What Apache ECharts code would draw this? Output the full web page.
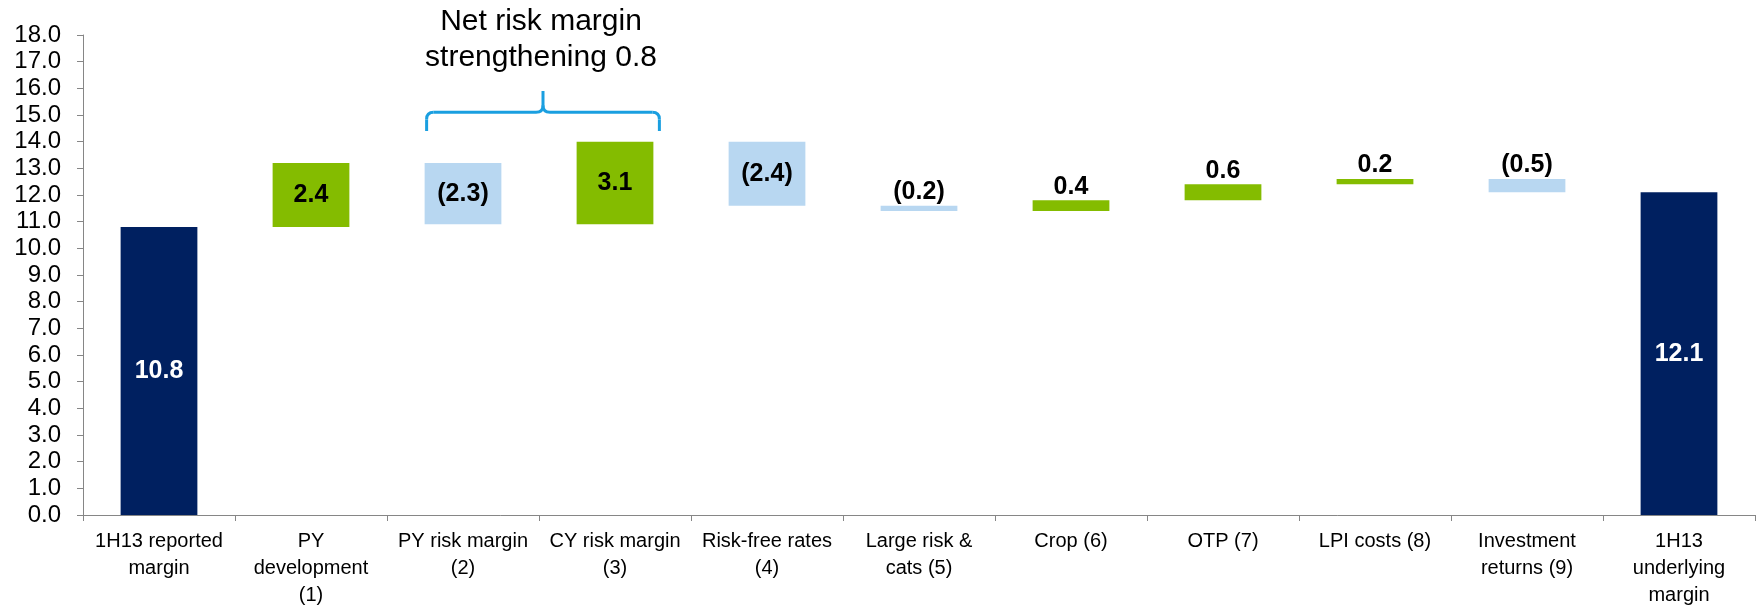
<!DOCTYPE html>
<html>
<head>
<meta charset="utf-8">
<title>1H13 margin bridge</title>
<script src="https://cdn.jsdelivr.net/npm/echarts@6/dist/echarts.min.js"></script>
<style>
  html, body { margin: 0; padding: 0; background: #ffffff; }
  #chart { width: 1756px; height: 609px; }
</style>
</head>
<body>
<div id="chart"></div>
<script>
// Bridge categories (x axis)
const categories = [
  '1H13 reported\nmargin',
  'PY\ndevelopment\n(1)',
  'PY risk margin\n(2)',
  'CY risk margin\n(3)',
  'Risk-free rates\n(4)',
  'Large risk &\ncats (5)',
  'Crop (6)',
  'OTP (7)',
  'LPI costs (8)',
  'Investment\nreturns (9)',
  '1H13\nunderlying\nmargin'
];
// Opening/closing totals and the movements between them (%)
const movements = [10.8, 2.4, -2.3, 3.1, -2.4, -0.2, 0.4, 0.6, 0.2, -0.5, 12.1];
// Which bars are totals (drawn from zero)
const isTotal = [true, false, false, false, false, false, false, false, false, false, true];
// Value axis tick range
const yTicks = { min: 0, max: 18, step: 1 };
// Bracket annotation over the risk-margin bars
const bracketText = 'Net risk margin\nstrengthening 0.8';
const bracketSpan = [2, 3];

const NAVY = '#002060';
const GREEN = '#84bc00';
const LIGHT_BLUE = '#b8d7f1';
const BRACKET_BLUE = '#1a9fe0';
const FONT = '"Liberation Sans", Arial, sans-serif';

// Build the invisible base and the visible floating segment for each bar
const baseData = [];
const barData = [];
let running = 0;
movements.forEach((v, i) => {
  if (isTotal[i]) {
    baseData.push(0);
    running = v;
    barData.push({
      value: v,
      raw: v,
      itemStyle: { color: NAVY },
      label: { position: 'inside', color: '#ffffff' }
    });
  } else {
    const start = running;
    const end = running + v;
    running = end;
    const small = Math.abs(v) < 1;
    baseData.push(Math.min(start, end));
    barData.push({
      value: Math.abs(v),
      raw: v,
      itemStyle: { color: v >= 0 ? GREEN : LIGHT_BLUE },
      label: { position: small ? 'top' : 'inside', distance: 1, color: '#000000' }
    });
  }
});

function fmt(v) {
  const s = Math.abs(v).toFixed(1);
  return v < 0 ? '(' + s + ')' : s;
}

const chart = echarts.init(document.getElementById('chart'), null, { renderer: 'canvas' });

chart.setOption({
  animation: false,
  backgroundColor: '#ffffff',
  grid: { left: 83, right: 1, top: 35, bottom: 86, containLabel: false },
  xAxis: {
    type: 'category',
    data: categories,
    axisLine: { lineStyle: { color: '#868686', width: 1 } },
    axisTick: { show: true, length: 6, interval: 0, lineStyle: { color: '#868686' } },
    axisLabel: {
      interval: 0,
      margin: 13,
      color: '#000000',
      fontFamily: FONT,
      fontSize: 20,
      lineHeight: 27,
      align: 'center'
    },
    splitLine: { show: false }
  },
  yAxis: {
    type: 'value',
    min: yTicks.min,
    max: yTicks.max,
    interval: yTicks.step,
    axisLine: { show: true, lineStyle: { color: '#868686', width: 1 } },
    axisTick: { show: true, length: 6, lineStyle: { color: '#868686' } },
    axisLabel: {
      margin: 22,
      color: '#000000',
      fontFamily: FONT,
      fontSize: 24,
      formatter: v => v.toFixed(1)
    },
    splitLine: { show: false }
  },
  series: [
    {
      name: 'base',
      type: 'bar',
      stack: 'bridge',
      barWidth: '50.5%',
      itemStyle: { color: 'transparent' },
      emphasis: { disabled: true },
      silent: true,
      data: baseData
    },
    {
      name: 'movement',
      type: 'bar',
      stack: 'bridge',
      barWidth: '50.5%',
      emphasis: { disabled: true },
      label: {
        show: true,
        fontFamily: FONT,
        fontSize: 25,
        fontWeight: 'bold',
        formatter: p => fmt(p.data.raw)
      },
      data: barData
    }
  ]
});

// Curly bracket above the two risk-margin bars, with its caption
function drawBracket() {
  const c0 = chart.convertToPixel({ xAxisIndex: 0 }, bracketSpan[0]);
  const c1 = chart.convertToPixel({ xAxisIndex: 0 }, bracketSpan[1]);
  const step = c1 - c0;
  const half = step * 0.505 / 2;
  const left = c0 - half + 2;
  const right = c1 + half + 6;
  const tip = (left + right) / 2;
  const yBottom = chart.convertToPixel({ yAxisIndex: 0 }, 14.4);
  const yMid = chart.convertToPixel({ yAxisIndex: 0 }, 15.1);
  const yTop = chart.convertToPixel({ yAxisIndex: 0 }, 15.9);
  const r = 7;
  const stroke = { stroke: BRACKET_BLUE, lineWidth: 3, fill: null };
  const line = (x1, y1, x2, y2) => ({ type: 'line', shape: { x1, y1, x2, y2 }, style: stroke, silent: true });
  const curve = (x1, y1, cx, cy, x2, y2) => ({
    type: 'bezierCurve',
    shape: { x1, y1, cpx1: cx, cpy1: cy, x2, y2 },
    style: stroke,
    silent: true
  });
  chart.setOption({
    graphic: [
      line(left, yBottom, left, yMid + r),
      curve(left, yMid + r, left, yMid, left + r, yMid),
      line(left + r, yMid, tip - r, yMid),
      curve(tip - r, yMid, tip, yMid, tip, yMid - r),
      line(tip, yMid - r, tip, yTop),
      curve(tip, yMid - r, tip, yMid, tip + r, yMid),
      line(tip + r, yMid, right - r, yMid),
      curve(right - r, yMid, right, yMid, right, yMid + r),
      line(right, yMid + r, right, yBottom),
      {
        type: 'text',
        x: tip - 2,
        y: 4,
        style: {
          text: bracketText,
          fill: '#000000',
          font: '30px ' + FONT,
          lineHeight: 36,
          align: 'center',
          verticalAlign: 'top'
        },
        silent: true
      }
    ]
  });
}
drawBracket();
</script>
</body>
</html>
